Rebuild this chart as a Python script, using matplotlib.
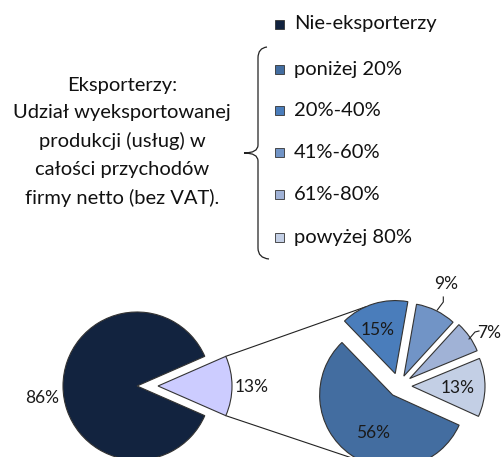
import matplotlib
matplotlib.use("Agg")
import matplotlib.pyplot as plt
import numpy as np
from matplotlib.patches import Rectangle, PathPatch
from matplotlib.path import Path

plt.rcParams['font.family'] = ['Lato', 'DejaVu Sans']

# ---- data ----
main_labels = ["Nie-eksporterzy", "Eksporterzy"]
main_values = [86, 13]
main_colors = ["#12233F", "#CCCCFF"]

sub_labels = ["poniżej 20%", "20%-40%", "41%-60%", "61%-80%", "powyżej 80%"]
sub_values = [56, 15, 9, 7, 13]
sub_colors = ["#436DA0", "#4A7DBB", "#7194C6", "#A0B2D6", "#C3CFE5"]

legend_labels = [main_labels[0]] + sub_labels
legend_colors = [main_colors[0]] + sub_colors

side_text = "Eksporterzy:\nUdział wyeksportowanej\nprodukcji (usług) w\ncałości przychodów\nfirmy netto (bez VAT)."

W, H = 501, 457
fig = plt.figure(figsize=(W / 100, H / 100), dpi=100)
ax = fig.add_axes([0, 0, 1, 1])

def Y(y):
    return H - y

FS = 14.5
FSL = 12.5
edge = dict(edgecolor="#333333", linewidth=0.8)

# left pie (explode given in data units = pixels)
start_main = 180 - main_values[0] / sum(main_values) * 180
wl, _ = ax.pie(main_values, colors=main_colors, center=(137, Y(386)), radius=74,
               startangle=start_main, explode=[0, 21], wedgeprops=edge, frame=True)
# right pie
wr, _ = ax.pie(sub_values, colors=sub_colors, center=(399, Y(386)), radius=73,
               startangle=-24.4, counterclock=False,
               explode=[11, 13, 11, 13, 13], wedgeprops=edge, frame=True)
ax.set_xlim(0, W)
ax.set_ylim(0, H)
ax.set_aspect("equal")
ax.axis("off")

# connector lines
lw = wl[1]
cx, cy = lw.center
r = lw.r
top = (cx + r * np.cos(np.radians(lw.theta2)), cy + r * np.sin(np.radians(lw.theta2)))
bot = (cx + r * np.cos(np.radians(lw.theta1)), cy + r * np.sin(np.radians(lw.theta1)))
w15 = wr[1]
w56 = wr[0]
a1 = np.radians(114)
a2 = np.radians(-114)
p1 = (w15.center[0] + w15.r * np.cos(a1), w15.center[1] + w15.r * np.sin(a1))
p2 = (w56.center[0] + w56.r * np.cos(a2), w56.center[1] + w56.r * np.sin(a2))
ax.plot([top[0], p1[0]], [top[1], p1[1]], color="#222222", lw=0.8, zorder=0)
ax.plot([bot[0], p2[0]], [bot[1], p2[1]], color="#222222", lw=0.8, zorder=0)

# value labels
def lab(x, y, s, ha="center"):
    ax.text(x, Y(y), s, ha=ha, va="center", fontsize=FSL, color="#1a1a1a")

lab(42, 398, f"{main_values[0]}%")
lab(235, 387, f"{main_values[1]}%", ha="left")
lab(373, 433, f"{sub_values[0]}%")
lab(378, 330, f"{sub_values[1]}%")
lab(446, 284, f"{sub_values[2]}%")
lab(489, 333, f"{sub_values[3]}%")
lab(458, 388, f"{sub_values[4]}%")

# leader lines
ax.plot([443.3, 443.3, 437.3], [Y(297), Y(302), Y(310)], color="#222222", lw=0.8)
ax.plot([479, 475, 469], [Y(331), Y(332), Y(339)], color="#222222", lw=0.8)

# legend
leg_y = [24, 69, 110, 152, 194, 237]
for yy, c, t in zip(leg_y, legend_colors, legend_labels):
    ax.add_patch(Rectangle((275, Y(yy) - 4.5), 9, 9, facecolor=c, edgecolor="#333333", lw=0.6))
    ax.text(294, Y(yy), t, ha="left", va="center", fontsize=FS, color="#111111")

# side text
ax.text(122, Y(142), side_text, ha="center", va="center", fontsize=FS,
        linespacing=1.73, color="#111111")

# brace
verts = [(267, 47), (258, 48), (258, 58),
         (258, 145),
         (258, 153), (244, 153),
         (258, 153), (258, 161),
         (258, 248),
         (258, 258), (269, 259)]
codes = [Path.MOVETO, Path.CURVE3, Path.CURVE3,
         Path.LINETO,
         Path.CURVE3, Path.CURVE3,
         Path.CURVE3, Path.CURVE3,
         Path.LINETO,
         Path.CURVE3, Path.CURVE3]
verts = [(x, Y(y)) for x, y in verts]
ax.add_patch(PathPatch(Path(verts, codes), facecolor="none", edgecolor="#222222", lw=0.9))

fig.savefig("out.png", dpi=100)
